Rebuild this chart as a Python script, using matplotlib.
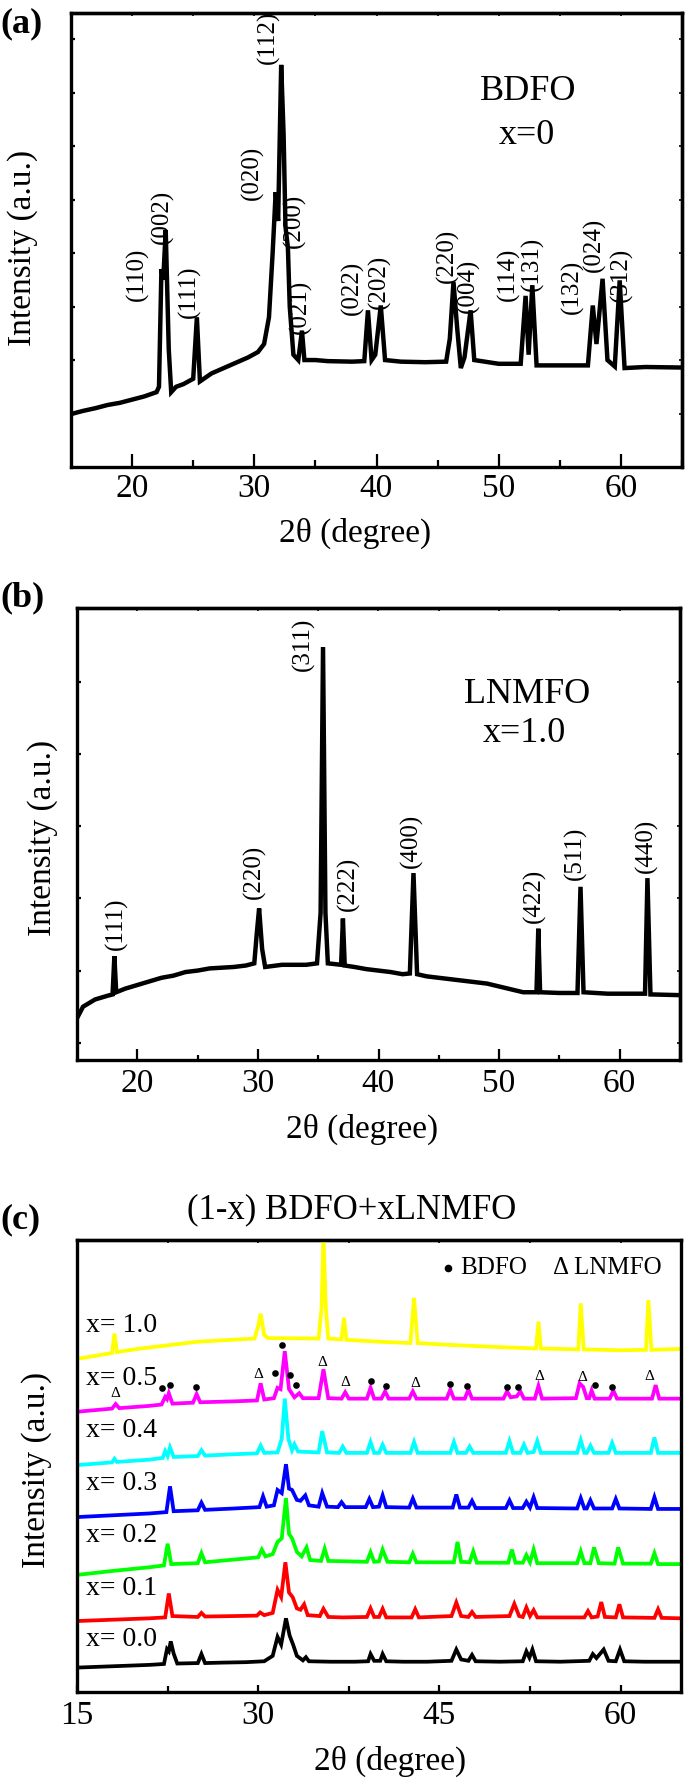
import matplotlib
matplotlib.use('Agg')
import matplotlib.pyplot as plt
from matplotlib.ticker import NullFormatter

plt.rcParams['font.family'] = ['Liberation Serif', 'DejaVu Serif']
plt.rcParams['mathtext.fontset'] = 'stix'

# ---------------- data ----------------
# Panel (a): BDFO, x = 0  (2theta, intensity)
bdfo_pattern = [
    (15, 0.99), (16, 1.05), (17, 1.1), (18, 1.16), (19, 1.2), (20, 1.26), (21, 1.32), (22.0, 1.4),
    (22.2, 1.5), (22.4, 3.7), (22.55, 3.5), (22.75, 4.43), (23.0, 2.2), (23.2, 1.4), (23.6, 1.5),
    (24.2, 1.55), (25.0, 1.65), (25.3, 2.8), (25.55, 1.6), (26.5, 1.75), (27.5, 1.85),
    (28.5, 1.95), (29.5, 2.05), (30.3, 2.15), (30.8, 2.3), (31.2, 2.8), (31.5, 4.0),
    (31.75, 5.14), (31.95, 4.6), (32.2, 7.52), (32.4, 6.2), (32.55, 4.5), (32.75, 4.1),
    (32.9, 3.0), (33.2, 2.1), (33.6, 2.0), (33.9, 2.55), (34.1, 2.0), (35, 2.0), (36, 1.98),
    (38, 1.97), (39.0, 1.98), (39.3, 2.93), (39.6, 2.0), (39.9, 2.1), (40.35, 3.02),
    (40.7, 2.0), (42, 1.97), (44, 1.96), (45.7, 1.97), (46.0, 2.4), (46.3, 3.46), (46.6, 2.6),
    (46.9, 1.85), (47.2, 2.05), (47.7, 2.93), (48.0, 2.0), (50, 1.93), (51.8, 1.93),
    (52.2, 3.2), (52.45, 2.1), (52.75, 3.4), (53.1, 1.9), (55, 1.9), (57.3, 1.9),
    (57.7, 3.02), (58.0, 2.3), (58.5, 3.52), (58.9, 2.0), (59.5, 1.88), (59.9, 3.49),
    (60.3, 1.85), (62, 1.87), (65, 1.86),
]
bdfo_hkl = [
    ("(110)", 20.43, 3.6), ("(002)", 22.47, 4.68), ("(111)", 24.72, 3.27),
    ("(020)", 29.83, 5.5), ("(112)", 31.15, 8.04), ("(200)", 33.3, 4.6),
    ("(021)", 33.76, 2.99), ("(022)", 38.05, 3.35), ("(202)", 40.27, 3.47),
    ("(220)", 45.8, 3.94), ("(004)", 47.5, 3.39), ("(114)", 50.8, 3.6),
    ("(131)", 52.78, 3.8), ("(132)", 56.06, 3.36), ("(024)", 57.85, 4.16),
    ("(312)", 60.0, 3.6),
]

# Panel (b): LNMFO, x = 1.0
lnmfo_pattern = [
    (15, 1.34), (15.5, 1.5), (16.5, 1.6), (17.5, 1.65), (17.95, 1.67), (18.1, 2.2), (18.25, 1.7),
    (19, 1.75), (20, 1.8), (21, 1.85), (22, 1.9), (23, 1.93), (24, 1.98), (25, 2.0), (26, 2.03),
    (27, 2.04), (28, 2.05), (29, 2.07), (29.7, 2.1), (29.9, 2.5), (30.1, 2.86), (30.35, 2.3),
    (30.6, 2.05), (32, 2.08), (34, 2.08), (34.9, 2.1), (35.2, 2.8), (35.4, 6.48), (35.6, 2.8),
    (35.8, 2.1), (36.9, 2.08), (37.05, 2.72), (37.2, 2.07), (38, 2.05), (39, 2.02), (40, 2.0),
    (41, 1.98), (42, 1.95), (42.6, 1.96), (42.9, 3.35), (43.2, 1.95), (44, 1.92), (45, 1.9),
    (46, 1.88), (47, 1.86), (48, 1.84), (49, 1.82), (50, 1.78), (51, 1.74), (52, 1.7),
    (53.1, 1.7), (53.25, 2.58), (53.4, 1.7), (55, 1.69), (56.5, 1.69), (56.75, 3.16),
    (57.0, 1.7), (59, 1.68), (62.1, 1.68), (62.3, 3.28), (62.55, 1.67), (65, 1.66),
]
lnmfo_hkl = [
    ("(111)", 18.3, 2.65), ("(220)", 29.7, 3.36), ("(311)", 33.8, 6.52),
    ("(222)", 37.5, 3.2), ("(400)", 42.7, 3.8), ("(422)", 52.95, 3.04),
    ("(511)", 56.3, 3.62), ("(440)", 62.2, 3.73),
]

# Panel (c): (1-x)BDFO + xLNMFO, stacked patterns
comp_labels = ["x= 0.0", "x= 0.1", "x= 0.2", "x= 0.3", "x= 0.4", "x= 0.5", "x= 1.0"]
comp_label_y = [11.6, 23.0, 34.6, 46.2, 57.8, 69.3, 81.1]
comp_colors = ["#000000", "#ff0000", "#00ff00", "#0000ff", "#00ffff", "#ff00ff", "#ffff00"]

x00 = [(15, 5.4), (18, 5.7), (21, 6.0), (22.2, 6.2), (22.45, 9.5), (22.6, 9.0), (22.76, 11.2),
       (23.0, 8.5), (23.3, 6.3), (25.0, 6.4), (25.3, 8.4), (25.6, 6.4), (27, 6.5), (29, 6.6),
       (30.5, 6.8), (31.2, 8.0), (31.6, 12.2), (31.9, 10.5), (32.3, 16.3), (32.6, 12.5),
       (32.9, 10.4), (33.2, 8.0), (33.7, 7.0), (33.95, 7.7), (34.2, 6.8), (36, 6.7), (38, 6.7),
       (39.1, 6.8), (39.3, 8.4), (39.6, 6.9), (40.1, 6.9), (40.3, 8.4), (40.6, 6.8), (42, 6.7),
       (44, 6.7), (46.0, 6.9), (46.4, 9.4), (46.8, 7.2), (47.4, 6.9), (47.7, 8.2), (48.0, 6.8),
       (50, 6.7), (51.9, 6.8), (52.2, 9.0), (52.45, 7.6), (52.7, 9.4), (53.0, 6.8), (55, 6.7),
       (57.4, 6.9), (57.7, 8.4), (58.0, 7.5), (58.6, 9.4), (59.0, 6.9), (59.6, 6.8),
       (59.95, 9.4), (60.3, 6.8), (62, 6.7), (65, 6.7)]
x01 = [(15, 15.7), (18, 16.0), (21, 16.3), (22.3, 16.5), (22.6, 21.8), (22.9, 16.8), (25.0, 16.6),
       (25.3, 17.5), (25.6, 16.7), (28, 16.8), (29.9, 16.9), (30.16, 17.6), (30.5, 17.0),
       (31.2, 17.5), (31.6, 22.6), (31.9, 21.0), (32.25, 28.7), (32.55, 22.0), (32.85, 21.0),
       (33.2, 18.5), (33.5, 18.2), (33.8, 19.4), (34.1, 17.0), (35.1, 16.8), (35.4, 18.4),
       (35.8, 16.6), (37, 16.5), (39.0, 16.6), (39.3, 18.5), (39.6, 16.6), (40.0, 16.6),
       (40.3, 18.4), (40.6, 16.5), (42.7, 16.5), (43.0, 18.3), (43.3, 16.5), (46.0, 16.8),
       (46.4, 19.8), (46.8, 16.8), (47.4, 16.6), (47.7, 17.7), (48.0, 16.6), (50.8, 16.8),
       (51.2, 19.5), (51.6, 16.8), (51.9, 16.6), (52.2, 18.7), (52.5, 16.8), (52.8, 18.1),
       (53.1, 16.5), (57.0, 16.5), (57.3, 17.9), (57.6, 16.5), (58.1, 16.7), (58.4, 19.9),
       (58.7, 16.6), (59.6, 16.5), (59.9, 19.4), (60.2, 16.5), (62.8, 16.4), (63.1, 18.3),
       (63.4, 16.4), (65, 16.3)]
x02 = [(15, 25.9), (18, 26.8), (21, 27.6), (22.2, 28.0), (22.5, 32.8), (22.8, 28.3), (25.0, 28.5),
       (25.3, 30.7), (25.6, 28.7), (28, 29.3), (30.0, 29.8), (30.3, 31.5), (30.6, 30.0),
       (31.2, 30.5), (31.6, 33.2), (31.95, 34.0), (32.3, 42.9), (32.55, 35.0), (32.8, 34.0),
       (33.2, 31.0), (33.6, 30.0), (34.0, 32.0), (34.3, 29.2), (35.2, 29.0), (35.5, 31.7),
       (35.8, 29.0), (39.0, 28.8), (39.3, 30.9), (39.6, 28.8), (40.0, 28.9), (40.3, 31.5),
       (40.7, 28.8), (42.5, 28.7), (42.8, 30.6), (43.1, 28.7), (46.2, 28.7), (46.5, 33.2),
       (46.8, 28.8), (47.5, 28.7), (47.8, 31.1), (48.1, 28.6), (50.7, 28.6), (51.0, 31.5),
       (51.3, 28.6), (51.9, 28.6), (52.2, 30.3), (52.5, 28.7), (52.8, 31.5), (53.1, 28.5),
       (56.4, 28.5), (56.7, 31.1), (57.0, 28.5), (57.5, 28.5), (57.8, 32.0), (58.2, 28.5),
       (59.5, 28.4), (59.8, 32.0), (60.2, 28.4), (62.5, 28.4), (62.8, 30.7), (63.1, 28.3),
       (65, 28.3)]
x03 = [(15, 38.7), (18, 39.1), (21, 39.5), (22.4, 39.8), (22.7, 45.5), (23.0, 40.0), (25.0, 40.2),
       (25.3, 41.9), (25.6, 40.3), (28, 40.6), (30.1, 40.9), (30.4, 43.3), (30.7, 41.0),
       (31.3, 41.3), (31.6, 44.7), (31.95, 44.0), (32.3, 50.4), (32.55, 45.0), (32.8, 44.7),
       (33.2, 42.5), (33.5, 42.3), (33.9, 43.5), (34.2, 41.3), (35.0, 41.0), (35.3, 44.0),
       (35.7, 41.0), (36.6, 40.9), (36.9, 42.0), (37.2, 40.9), (38.9, 40.9), (39.2, 42.7),
       (39.5, 40.9), (40.0, 41.0), (40.3, 43.5), (40.6, 40.9), (42.5, 40.8), (42.8, 42.8),
       (43.1, 40.8), (46.1, 40.8), (46.4, 43.7), (46.7, 40.8), (47.4, 40.8), (47.7, 42.3),
       (48.0, 40.7), (50.5, 40.7), (50.8, 42.4), (51.1, 40.7), (51.9, 40.7), (52.2, 42.1),
       (52.5, 40.8), (52.8, 43.1), (53.1, 40.7), (56.4, 40.6), (56.7, 42.9), (57.0, 40.6),
       (57.2, 40.6), (57.5, 42.4), (57.8, 40.6), (59.3, 40.6), (59.6, 42.7), (59.9, 40.6),
       (62.5, 40.5), (62.8, 43.1), (63.1, 40.5), (65, 40.5)]
x04 = [(15, 50.2), (17.9, 50.8), (18.1, 51.6), (18.3, 50.9), (21, 51.4), (22.1, 51.8), (22.3, 53.3),
       (22.5, 52.2), (22.7, 54.1), (23.0, 52.0), (25.0, 52.2), (25.3, 53.5), (25.6, 52.3),
       (28, 52.6), (29.9, 52.8), (30.2, 54.5), (30.5, 52.9), (31.6, 53.0), (31.95, 56.0),
       (32.2, 64.9), (32.5, 56.0), (32.8, 53.5), (33.0, 54.8), (33.3, 53.2), (35.0, 53.0),
       (35.3, 57.7), (35.7, 53.0), (36.7, 52.9), (37.0, 54.3), (37.3, 52.9), (39.0, 52.9),
       (39.3, 55.3), (39.6, 52.9), (40.0, 52.9), (40.3, 54.7), (40.6, 52.9), (42.6, 52.9),
       (42.9, 55.3), (43.2, 52.9), (45.9, 52.9), (46.2, 55.3), (46.5, 52.9), (47.2, 52.9),
       (47.5, 54.3), (47.8, 52.9), (50.5, 52.9), (50.8, 55.5), (51.1, 52.9), (51.7, 52.9),
       (52.0, 54.7), (52.3, 52.9), (52.8, 53.1), (53.1, 55.5), (53.4, 52.9), (56.4, 52.9),
       (56.7, 55.7), (57.0, 52.9), (57.2, 52.9), (57.5, 54.5), (57.8, 52.9), (59.0, 52.9),
       (59.3, 55.1), (59.6, 52.9), (62.5, 52.9), (62.8, 56.3), (63.1, 52.9), (65, 52.9)]
x05 = [(15, 62.0), (17.9, 62.7), (18.2, 63.7), (18.5, 62.8), (21, 63.3), (22.0, 63.6), (22.3, 65.3),
       (22.45, 64.8), (22.6, 66.1), (22.9, 63.8), (24.6, 64.0), (24.9, 65.9), (25.2, 64.1),
       (28, 64.3), (29.9, 64.5), (30.2, 68.3), (30.5, 64.7), (31.3, 65.0), (31.6, 67.3),
       (31.85, 67.0), (32.2, 75.4), (32.55, 67.0), (33.0, 65.2), (33.4, 66.1), (33.7, 65.0),
       (35.0, 65.0), (35.4, 71.4), (35.8, 65.0), (36.9, 64.9), (37.2, 66.3), (37.5, 64.9),
       (39.0, 64.9), (39.3, 67.3), (39.6, 64.9), (40.2, 64.9), (40.5, 66.5), (40.8, 64.9),
       (42.5, 64.9), (42.8, 66.5), (43.1, 64.9), (45.6, 64.9), (45.9, 66.9), (46.2, 64.9),
       (47.1, 64.9), (47.4, 66.9), (47.7, 64.9), (50.3, 64.9), (50.6, 66.5), (50.9, 65.2),
       (51.4, 65.4), (51.7, 66.5), (52.0, 64.9), (52.9, 64.9), (53.2, 67.7), (53.5, 64.9),
       (56.3, 65.0), (56.6, 68.3), (56.9, 67.5), (57.2, 65.0), (57.4, 65.0), (57.6, 66.7),
       (57.85, 64.9), (59.1, 64.9), (59.4, 66.7), (59.7, 64.9), (62.6, 64.9), (62.9, 67.9),
       (63.2, 64.9), (65, 64.9)]
x10 = [(15, 73.7), (17.9, 75.0), (18.1, 79.3), (18.3, 75.2), (20, 75.9), (25, 77.5), (29.7, 78.2),
       (30.0, 81.0), (30.2, 83.7), (30.5, 79.0), (30.8, 78.3), (35.0, 78.2), (35.25, 85.0),
       (35.4, 101.0), (35.6, 85.0), (35.8, 78.2), (36.9, 78.0), (37.1, 82.8), (37.3, 77.9),
       (40, 77.5), (42.6, 77.2), (42.9, 87.2), (43.2, 77.2), (45, 76.9), (50, 76.3),
       (53.0, 76.0), (53.2, 81.95), (53.4, 76.0), (55, 75.9), (56.5, 75.8), (56.7, 86.0),
       (56.95, 75.8), (60, 75.6), (62.1, 75.7), (62.3, 86.7), (62.55, 75.7), (65, 75.9)]
comp_patterns = [x00, x01, x02, x03, x04, x05, x10]

# phase markers on the x = 0.5 pattern
bdfo_marks = [(22.05, 67.2), (22.7, 67.9), (24.86, 67.5), (31.4, 70.6), (31.97, 76.8),
              (32.65, 70.2), (33.1, 68.0), (39.37, 68.7), (40.6, 67.6), (45.87, 68.1),
              (47.3, 67.7), (50.6, 67.5), (51.5, 67.5), (57.9, 68.0), (59.3, 67.5)]
lnmfo_marks = [(18.2, 66.1), (30.05, 70.2), (35.3, 73.0), (37.2, 68.5), (42.98, 68.3),
               (53.3, 69.9), (56.8, 69.5), (62.4, 69.8)]

# ---------------- figure ----------------
W, H = 685, 1778
fig = plt.figure(figsize=(W / 100, H / 100), dpi=100)


def rect(l, t, r, b):
    return [l / W, 1 - b / H, (r - l) / W, (b - t) / H]


def ftext(x, y, s, **kw):
    fig.text(x / W, 1 - y / H, s, **kw)


SPW = 2.4


def frame(ax, major, minor, mlen, mnlen, pad, ylocs, ylen, xlab_all):
    for s in ax.spines.values():
        s.set_linewidth(SPW)
    ax.set_xlim(15, 65)
    ax.set_xticks(major)
    ax.set_xticks(minor, minor=True)
    ax.tick_params(axis='x', which='major', direction='in', length=mlen, width=1.6,
                   labelsize=24, pad=pad)
    ax.tick_params(axis='x', which='minor', direction='in', length=mnlen, width=1.6)
    ax.set_yticks(ylocs)
    ax.tick_params(axis='y', which='both', direction='in', length=ylen, width=1.6,
                   labelleft=False)
    sx = ax.secondary_xaxis('top')
    sx.set_xticks(xlab_all)
    sx.xaxis.set_major_formatter(NullFormatter())
    sx.tick_params(direction='in', length=2.5, width=1.2)
    sx.spines['top'].set_linewidth(SPW)
    if len(ylocs):
        sy = ax.secondary_yaxis('right')
        sy.set_yticks(ylocs)
        sy.yaxis.set_major_formatter(NullFormatter())
        sy.tick_params(direction='in', length=2.5, width=1.2)
        sy.spines['right'].set_linewidth(SPW)


# ---- panel (a)
axa = fig.add_axes(rect(71, 13, 682, 467))
xa, ya = zip(*bdfo_pattern)
axa.plot(xa, ya, color='black', lw=3.2, solid_joinstyle='miter')
axa.set_ylim(0, 8.49)
frame(axa, [20, 30, 40, 50, 60], [25, 35, 45, 55, 65], 9.5, 5, 5,
      [1, 2, 3, 4, 5, 6, 7, 8], 3, [20, 25, 30, 35, 40, 45, 50, 55, 60])
for lab, x, y in bdfo_hkl:
    axa.text(x, y, lab, rotation=90, ha='center', va='center', fontsize=18)
ftext(21, 24, '(a)', fontsize=26, fontweight='bold', ha='center', va='center')
ftext(528, 92, 'BDFO', fontsize=26, ha='center', va='center')
ftext(527, 135, 'x=0', fontsize=26, ha='center', va='center')
ftext(23, 248, 'Intensity (a.u.)', fontsize=24, rotation=90, ha='center', va='center')
ftext(355, 533, '2θ (degree)', fontsize=24, ha='center', va='center')

# ---- panel (b)
axb = fig.add_axes(rect(77, 608, 680, 1060))
xb, yb = zip(*lnmfo_pattern)
axb.plot(xb, yb, color='black', lw=3.2, solid_joinstyle='miter')
axb.set_ylim(0.762, 7.02)
frame(axb, [20, 30, 40, 50, 60], [25, 35, 45, 55], 8, 3.6, 6,
      [1, 2, 3, 4, 5, 6], 3, [20, 25, 30, 35, 40, 45, 50, 55, 60])
for lab, x, y in lnmfo_hkl:
    axb.text(x, y, lab, rotation=90, ha='center', va='center', fontsize=18)
ftext(22, 598, '(b)', fontsize=26, fontweight='bold', ha='center', va='center')
ftext(527, 694, 'LNMFO', fontsize=26, ha='center', va='center')
ftext(524, 734, 'x=1.0', fontsize=26, ha='center', va='center')
ftext(43, 838, 'Intensity (a.u.)', fontsize=24, rotation=90, ha='center', va='center')
ftext(362, 1129, '2θ (degree)', fontsize=24, ha='center', va='center')

# ---- panel (c)
axc = fig.add_axes(rect(77, 1240, 681, 1692))
for pat, col in zip(comp_patterns, comp_colors):
    xc, yc = zip(*pat)
    axc.plot(xc, yc, color=col, lw=2.7, solid_joinstyle='miter')
axc.set_ylim(0, 100)
frame(axc, [15, 30, 45, 60], [22.5, 37.5, 52.5], 5, 4.5, 6, [], 0,
      [22.5, 30, 37.5, 45, 52.5, 60])
for lab, y in zip(comp_labels, comp_label_y):
    axc.text(15.72, y, lab, fontsize=20, ha='left', va='center')
bx, by = zip(*bdfo_marks)
axc.plot(bx, by, 'o', color='black', ms=4.8, mec='none')
for x, y in lnmfo_marks:
    axc.text(x, y, 'Δ', fontsize=11, ha='center', va='center')
axc.plot([45.7], [93.9], 'o', color='black', ms=5.5, mec='none')
axc.text(46.7, 93.9, 'BDFO', fontsize=18, ha='left', va='center')
axc.text(54.4, 93.9, 'Δ LNMFO', fontsize=18, ha='left', va='center')
ftext(20, 1220, '(c)', fontsize=26, fontweight='bold', ha='center', va='center')
ftext(352, 1210, '(1-x) BDFO+xLNMFO', fontsize=25, ha='center', va='center')
ftext(37, 1470, 'Intensity (a.u.)', fontsize=24, rotation=90, ha='center', va='center')
ftext(390, 1761, '2θ (degree)', fontsize=24, ha='center', va='center')

fig.savefig('out.png', dpi=100)
